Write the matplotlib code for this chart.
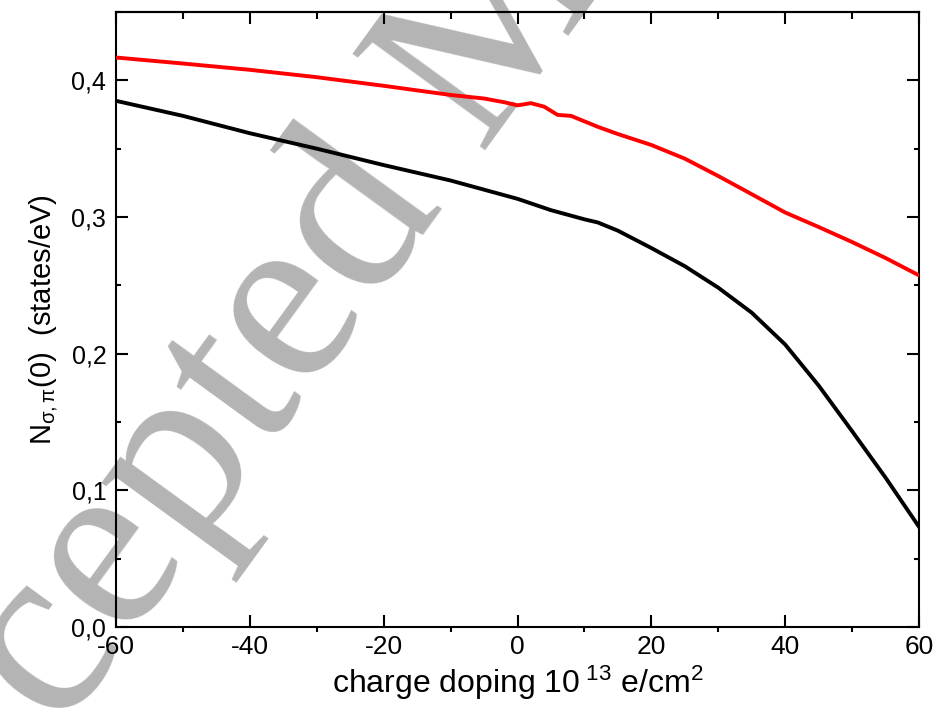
import numpy as np
import matplotlib
matplotlib.use("Agg")
import matplotlib.pyplot as plt
from matplotlib.ticker import MultipleLocator, FuncFormatter

plt.rcParams['font.family'] = ['Liberation Sans', 'DejaVu Sans']
plt.rcParams['mathtext.fontset'] = 'custom'
plt.rcParams['mathtext.rm'] = 'Liberation Sans'
plt.rcParams['mathtext.it'] = 'Liberation Sans:italic'

# doping (10^13 e/cm^2) and N(0) values
x_red = [-60, -50, -40, -30, -20, -10, -5, -2, 0, 2, 4, 6, 8, 10, 12, 15,
         20, 25, 30, 35, 40, 45, 50, 55, 60]
n_red = [0.4167, 0.4123, 0.4077, 0.4023, 0.396, 0.3893, 0.3867, 0.384, 0.3817,
         0.3833, 0.3807, 0.3747, 0.374, 0.370, 0.366, 0.3607, 0.3527, 0.3427,
         0.330, 0.3167, 0.3033, 0.2927, 0.2817, 0.270, 0.2573]

x_black = [-60, -50, -40, -30, -20, -10, -5, 0, 5, 10, 12, 15, 20, 25, 30,
           35, 40, 45, 50, 55, 60]
n_black = [0.385, 0.374, 0.3613, 0.350, 0.338, 0.3267, 0.320, 0.3133, 0.305,
           0.2983, 0.296, 0.290, 0.2773, 0.264, 0.2483, 0.230, 0.2067, 0.1767,
           0.1433, 0.1093, 0.0733]

fig = plt.figure(figsize=(9.35, 7.13), dpi=100)
ax = fig.add_axes([116/935, 1 - 627/713, 803/935, 615/713])
ax.patch.set_alpha(0)

# watermark behind the axes
fig.text(-0.117, -0.36, 'Accepted Manuscript', fontsize=180, color='#b4b4b4',
         family=['Liberation Serif', 'DejaVu Serif'], rotation=54,
         rotation_mode='anchor', ha='left', va='baseline', zorder=-5)

ax.plot(x_red, n_red, color='#ff0000', lw=2.8, zorder=3)
ax.plot(x_black, n_black, color='black', lw=2.8, zorder=3)

ax.set_xlim(-60, 60)
ax.set_ylim(0, 0.45)
ax.xaxis.set_major_locator(MultipleLocator(20))
ax.xaxis.set_minor_locator(MultipleLocator(10))
ax.yaxis.set_major_locator(MultipleLocator(0.1))
ax.yaxis.set_minor_locator(MultipleLocator(0.05))
ax.yaxis.set_major_formatter(FuncFormatter(lambda v, p: f'{v:.1f}'.replace('.', ',')))
ax.xaxis.set_major_formatter(FuncFormatter(lambda v, p: f'{v:.0f}'))

for s in ax.spines.values():
    s.set_linewidth(1.5)
ax.tick_params(axis='y', which='both', direction='in', left=True, right=True, width=1.5)
ax.tick_params(axis='y', which='major', length=8.5, labelsize=18, pad=7)
ax.tick_params(axis='y', which='minor', length=3.6)
ax.tick_params(axis='x', which='major', direction='in', length=8.5, width=1.5,
               labelsize=19, pad=6)
ax.tick_params(axis='x', which='minor', direction='out', length=3.6, width=1.5)

top = ax.secondary_xaxis('top')
top.xaxis.set_major_locator(MultipleLocator(20))
top.xaxis.set_minor_locator(MultipleLocator(10))
top.tick_params(which='both', direction='in', width=1.5, labeltop=False)
top.tick_params(which='major', length=8.5)
top.tick_params(which='minor', length=5)
top.spines['top'].set_linewidth(1.5)

ax.set_xlabel('charge doping 10$^{\\ 13}$ e/cm$^2$', fontsize=23, labelpad=3)
ax.set_ylabel('N$_{\\mathregular{σ,π}}$(0)  (states/eV)', fontsize=21, labelpad=8)

fig.savefig('out.png', dpi=100)
